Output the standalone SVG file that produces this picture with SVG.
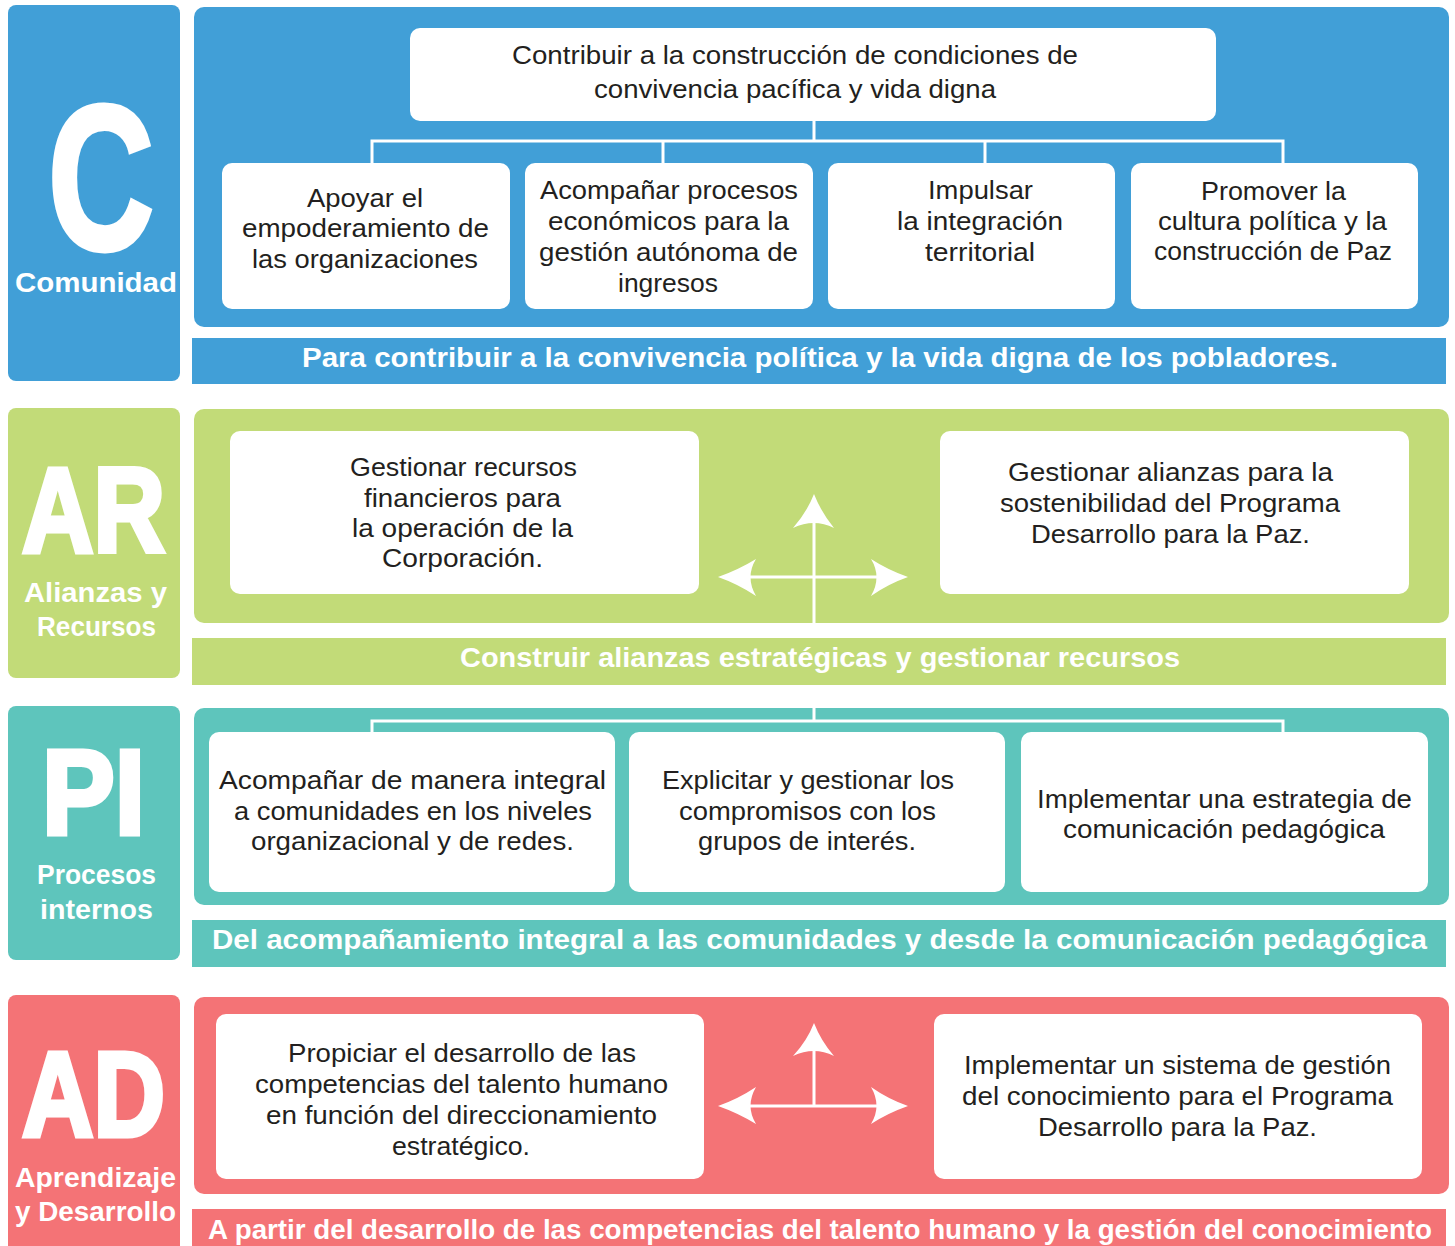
<svg xmlns="http://www.w3.org/2000/svg" width="1455" height="1246" viewBox="0 0 1455 1246">
<style>
.bg{fill:#ffffff}
.c{fill:#419FD7}.g{fill:#C2DB78}.t{fill:#5EC5BC}.r{fill:#F47376}
.box{fill:#ffffff}
.big{font-family:"Liberation Sans",Arial,sans-serif;font-weight:bold;fill:#ffffff;stroke:#ffffff;stroke-width:5;stroke-linejoin:miter}
.lab{font-family:"Liberation Sans",Arial,sans-serif;font-weight:bold;font-size:27px;fill:#ffffff}
.ban{font-family:"Liberation Sans",Arial,sans-serif;font-weight:bold;font-size:27px;fill:#ffffff}
.txt{font-family:"Liberation Sans",Arial,sans-serif;font-size:26px;fill:#231F20}
.ln{stroke:#ffffff;stroke-width:3;fill:none}
.ah{fill:#ffffff}
</style>
<rect class="bg" x="0" y="0" width="1455" height="1246"/>

<!-- Section C -->
<g id="sec-c">
  <rect class="c" x="8" y="5" width="172" height="376" rx="8"/>
  <text class="big" x="48" y="249" font-size="206" textLength="106" lengthAdjust="spacingAndGlyphs">C</text>
  <text class="lab" x="15" y="292" textLength="162" lengthAdjust="spacingAndGlyphs">Comunidad</text>
  <rect class="c" x="194" y="7" width="1255" height="320" rx="10"/>
  <rect class="c" x="192" y="338" width="1254" height="46"/>
  <text class="ban" x="302" y="367" textLength="1036" lengthAdjust="spacingAndGlyphs">Para contribuir a la convivencia política y la vida digna de los pobladores.</text>
</g>
<g id="c-top">
  <rect class="box" x="410" y="28" width="806" height="93" rx="10"/>
  <text class="txt" x="512" y="64" textLength="566" lengthAdjust="spacingAndGlyphs">Contribuir a la construcción de condiciones de</text>
  <text class="txt" x="594" y="98" textLength="402" lengthAdjust="spacingAndGlyphs">convivencia pacífica y vida digna</text>
</g>
<g id="c-1">
  <rect class="box" x="222" y="163" width="288" height="146" rx="10"/>
  <text class="txt" x="307" y="207" textLength="116" lengthAdjust="spacingAndGlyphs">Apoyar el</text>
  <text class="txt" x="242" y="237" textLength="247" lengthAdjust="spacingAndGlyphs">empoderamiento de</text>
  <text class="txt" x="252" y="268" textLength="226" lengthAdjust="spacingAndGlyphs">las organizaciones</text>
</g>
<g id="c-2">
  <rect class="box" x="525" y="163" width="288" height="146" rx="10"/>
  <text class="txt" x="540" y="199" textLength="258" lengthAdjust="spacingAndGlyphs">Acompañar procesos</text>
  <text class="txt" x="548" y="230" textLength="241" lengthAdjust="spacingAndGlyphs">económicos para la</text>
  <text class="txt" x="539" y="261" textLength="259" lengthAdjust="spacingAndGlyphs">gestión autónoma de</text>
  <text class="txt" x="618" y="292" textLength="100" lengthAdjust="spacingAndGlyphs">ingresos</text>
</g>
<g id="c-3">
  <rect class="box" x="828" y="163" width="287" height="146" rx="10"/>
  <text class="txt" x="928" y="199" textLength="105" lengthAdjust="spacingAndGlyphs">Impulsar</text>
  <text class="txt" x="897" y="230" textLength="166" lengthAdjust="spacingAndGlyphs">la integración</text>
  <text class="txt" x="925" y="261" textLength="110" lengthAdjust="spacingAndGlyphs">territorial</text>
</g>
<g id="c-4">
  <rect class="box" x="1131" y="163" width="287" height="146" rx="10"/>
  <text class="txt" x="1201" y="200" textLength="145" lengthAdjust="spacingAndGlyphs">Promover la</text>
  <text class="txt" x="1158" y="230" textLength="229" lengthAdjust="spacingAndGlyphs">cultura política y la</text>
  <text class="txt" x="1154" y="260" textLength="238" lengthAdjust="spacingAndGlyphs">construcción de Paz</text>
</g>

<!-- Section AR -->
<g id="sec-ar">
  <rect class="g" x="8" y="408" width="172" height="270" rx="8"/>
  <text class="big" x="22" y="552" font-size="120" textLength="143" lengthAdjust="spacingAndGlyphs">AR</text>
  <text class="lab" x="24" y="602" textLength="143" lengthAdjust="spacingAndGlyphs">Alianzas y</text>
  <text class="lab" x="37" y="636" textLength="119" lengthAdjust="spacingAndGlyphs">Recursos</text>
  <rect class="g" x="194" y="409" width="1255" height="214" rx="10"/>
  <rect class="g" x="192" y="638" width="1254" height="47"/>
  <text class="ban" x="460" y="667" textLength="720" lengthAdjust="spacingAndGlyphs">Construir alianzas estratégicas y gestionar recursos</text>
</g>
<g id="ar-1">
  <rect class="box" x="230" y="431" width="469" height="163" rx="10"/>
  <text class="txt" x="350" y="476" textLength="227" lengthAdjust="spacingAndGlyphs">Gestionar recursos</text>
  <text class="txt" x="364" y="507" textLength="197" lengthAdjust="spacingAndGlyphs">financieros para</text>
  <text class="txt" x="352" y="537" textLength="221" lengthAdjust="spacingAndGlyphs">la operación de la</text>
  <text class="txt" x="382" y="567" textLength="161" lengthAdjust="spacingAndGlyphs">Corporación.</text>
</g>
<g id="ar-2">
  <rect class="box" x="940" y="431" width="469" height="163" rx="10"/>
  <text class="txt" x="1008" y="481" textLength="325" lengthAdjust="spacingAndGlyphs">Gestionar alianzas para la</text>
  <text class="txt" x="1000" y="512" textLength="340" lengthAdjust="spacingAndGlyphs">sostenibilidad del Programa</text>
  <text class="txt" x="1031" y="543" textLength="279" lengthAdjust="spacingAndGlyphs">Desarrollo para la Paz.</text>
</g>

<!-- Section PI -->
<g id="sec-pi">
  <rect class="t" x="8" y="706" width="172" height="254" rx="8"/>
  <text class="big" x="42" y="834" font-size="120" textLength="103" lengthAdjust="spacingAndGlyphs">PI</text>
  <text class="lab" x="37" y="884" textLength="119" lengthAdjust="spacingAndGlyphs">Procesos</text>
  <text class="lab" x="40" y="919" textLength="113" lengthAdjust="spacingAndGlyphs">internos</text>
  <rect class="t" x="194" y="708" width="1255" height="197" rx="10"/>
  <rect class="t" x="192" y="920" width="1254" height="47"/>
  <text class="ban" x="212" y="949" textLength="1215" lengthAdjust="spacingAndGlyphs">Del acompañamiento integral a las comunidades y desde la comunicación pedagógica</text>
</g>
<g id="pi-1">
  <rect class="box" x="209" y="732" width="406" height="160" rx="10"/>
  <text class="txt" x="219" y="789" textLength="387" lengthAdjust="spacingAndGlyphs">Acompañar de manera integral</text>
  <text class="txt" x="234" y="820" textLength="358" lengthAdjust="spacingAndGlyphs">a comunidades en los niveles</text>
  <text class="txt" x="251" y="850" textLength="323" lengthAdjust="spacingAndGlyphs">organizacional y de redes.</text>
</g>
<g id="pi-2">
  <rect class="box" x="629" y="732" width="376" height="160" rx="10"/>
  <text class="txt" x="662" y="789" textLength="292" lengthAdjust="spacingAndGlyphs">Explicitar y gestionar los</text>
  <text class="txt" x="679" y="820" textLength="257" lengthAdjust="spacingAndGlyphs">compromisos con los</text>
  <text class="txt" x="698" y="850" textLength="218" lengthAdjust="spacingAndGlyphs">grupos de interés.</text>
</g>
<g id="pi-3">
  <rect class="box" x="1021" y="732" width="407" height="160" rx="10"/>
  <text class="txt" x="1037" y="808" textLength="375" lengthAdjust="spacingAndGlyphs">Implementar una estrategia de</text>
  <text class="txt" x="1063" y="838" textLength="322" lengthAdjust="spacingAndGlyphs">comunicación pedagógica</text>
</g>

<!-- Section AD -->
<g id="sec-ad">
  <rect class="r" x="8" y="995" width="172" height="262" rx="8"/>
  <text class="big" x="22" y="1136" font-size="120" textLength="143" lengthAdjust="spacingAndGlyphs">AD</text>
  <text class="lab" x="15" y="1187" textLength="161" lengthAdjust="spacingAndGlyphs">Aprendizaje</text>
  <text class="lab" x="15" y="1221" textLength="161" lengthAdjust="spacingAndGlyphs">y Desarrollo</text>
  <rect class="r" x="194" y="997" width="1255" height="197" rx="10"/>
  <rect class="r" x="192" y="1209" width="1254" height="47"/>
  <text class="ban" x="208" y="1239" textLength="1224" lengthAdjust="spacingAndGlyphs">A partir del desarrollo de las competencias del talento humano y la gestión del conocimiento</text>
</g>
<g id="ad-1">
  <rect class="box" x="216" y="1014" width="488" height="165" rx="10"/>
  <text class="txt" x="288" y="1062" textLength="348" lengthAdjust="spacingAndGlyphs">Propiciar el desarrollo de las</text>
  <text class="txt" x="255" y="1093" textLength="413" lengthAdjust="spacingAndGlyphs">competencias del talento humano</text>
  <text class="txt" x="266" y="1124" textLength="391" lengthAdjust="spacingAndGlyphs">en función del direccionamiento</text>
  <text class="txt" x="392" y="1155" textLength="138" lengthAdjust="spacingAndGlyphs">estratégico.</text>
</g>
<g id="ad-2">
  <rect class="box" x="934" y="1014" width="488" height="165" rx="10"/>
  <text class="txt" x="964" y="1074" textLength="427" lengthAdjust="spacingAndGlyphs">Implementar un sistema de gestión</text>
  <text class="txt" x="962" y="1105" textLength="431" lengthAdjust="spacingAndGlyphs">del conocimiento para el Programa</text>
  <text class="txt" x="1038" y="1136" textLength="279" lengthAdjust="spacingAndGlyphs">Desarrollo para la Paz.</text>
</g>

<!-- Connectors -->
<g id="connectors">
  <!-- C tree -->
  <path class="ln" d="M814,121 V141 M372,141 H1283 M372,139.5 V163 M663,139.5 V163 M985,139.5 V163 M1283,139.5 V163"/>
  <!-- AR cross -->
  <path class="ln" d="M814,520 V623 M745,577 H885"/>
  <path class="ah" d="M718,577 Q738,570 756,559 Q745,577 756,596 Q738,584 718,577 Z"/>
  <path class="ah" d="M908,577 Q888,570 871,559 Q882,577 871,596 Q888,584 908,577 Z"/>
  <path class="ah" d="M814,494 Q821,512 834,528 Q814,518 793,528 Q807,512 814,494 Z"/>
  <!-- PI tree -->
  <path class="ln" d="M814,708 V721 M372,721 H1283 M372,719.5 V732 M1283,719.5 V732"/>
  <!-- AD cross -->
  <path class="ln" d="M814,1048 V1106 M745,1106 H885"/>
  <path class="ah" d="M718,1106 Q738,1099 756,1087 Q745,1106 756,1124 Q738,1113 718,1106 Z"/>
  <path class="ah" d="M908,1106 Q888,1099 871,1087 Q882,1106 871,1124 Q888,1113 908,1106 Z"/>
  <path class="ah" d="M814,1023 Q821,1041 834,1056 Q814,1046 793,1056 Q807,1041 814,1023 Z"/>
</g>
</svg>
